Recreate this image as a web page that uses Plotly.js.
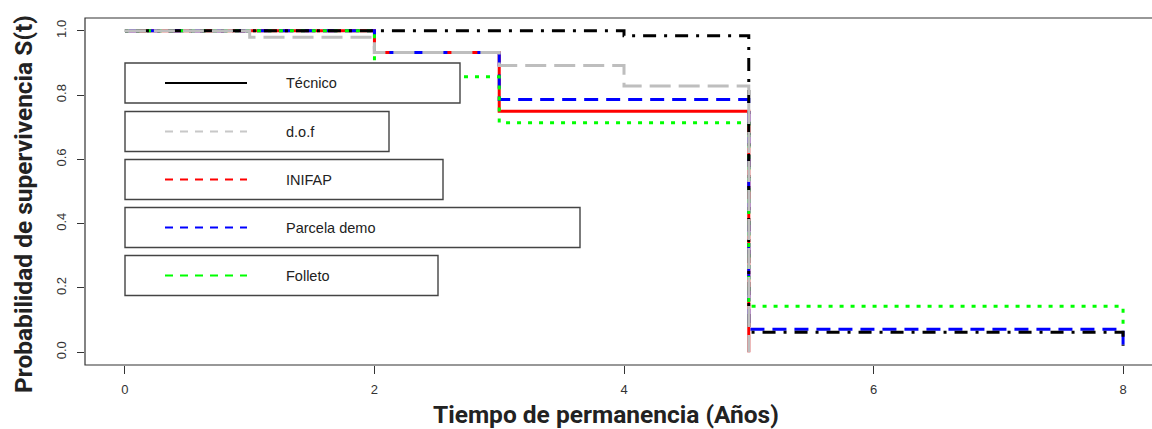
<!DOCTYPE html>
<html>
<head>
<meta charset="utf-8">
<script src="https://cdn.plot.ly/plotly-3.0.1.min.js"></script>
<style>
html,body{margin:0;padding:0;overflow:hidden;background:#fff;width:1152px;height:429px;}
#chart{width:1166px;height:429px;}
</style>
</head>
<body>
<div id="chart"></div>
<script>
// ---- Data ----
var seriesNames = ["INIFAP", "Parcela demo", "Folleto", "Técnico", "d.o.f"];
var timesINIFAP = [0, 2, 3, 5];
var survINIFAP  = [1.0, 0.933, 0.75, 0.0];
var timesParcela = [0, 2, 3, 5, 8];
var survParcela  = [1.0, 0.933, 0.786, 0.071, 0.02];
var timesFolleto = [0, 2, 3, 5, 8];
var survFolleto  = [1.0, 0.857, 0.714, 0.143, 0.071];
var timesTecnico = [0, 4, 5, 8];
var survTecnico  = [1.0, 0.985, 0.062, 0.02];
var timesDof = [0, 1, 2, 3, 4, 5];
var survDof  = [1.0, 0.98, 0.933, 0.892, 0.828, 0.0];

var legendLabels = ["Técnico", "d.o.f", "INIFAP", "Parcela demo", "Folleto"];
var legendColors = ["#000000", "#C8C8C8", "#FF0000", "#0000FF", "#00FF00"];
var xTicks = [0, 2, 4, 6, 8];
var yTicks = [0, 0.2, 0.4, 0.6, 0.8, 1.0];

// ---- Styles ----
var lineStyles = {
  "INIFAP":       {color: "#FF0000", width: 3, dash: "solid"},
  "Parcela demo": {color: "#0000FF", width: 3, dash: "14px,8px"},
  "Folleto":      {color: "#00FF00", width: 3, dash: "4px,7px"},
  "Técnico":      {color: "#000000", width: 3, dash: "3px,8px,13px,8px"},
  "d.o.f":        {color: "#BEBEBE", width: 3, dash: "21px,8px"}
};
var seriesData = {
  "INIFAP": [timesINIFAP, survINIFAP],
  "Parcela demo": [timesParcela, survParcela],
  "Folleto": [timesFolleto, survFolleto],
  "Técnico": [timesTecnico, survTecnico],
  "d.o.f": [timesDof, survDof]
};

var traces = seriesNames.map(function(n){
  var s = lineStyles[n];
  return {
    type: "scatter", mode: "lines", name: n,
    x: seriesData[n][0], y: seriesData[n][1],
    line: {shape: "hv", color: s.color, width: s.width, dash: s.dash},
    showlegend: false, hoverinfo: "skip"
  };
});

// layout geometry (pixels)
var W = 1166, H = 429, ML = 85, MR = 3, MT = 18, MB = 64;
var PW = W - ML - MR, PH = H - MT - MB;
function px(x){ return (x - ML) / PW; }
function py(y){ return 1 - (y - MT) / PH; }

var shapes = [{
  type: "rect", xref: "paper", yref: "paper", x0: 0, x1: 1, y0: 0, y1: 1,
  line: {color: "#333333", width: 1.2}, fillcolor: "rgba(0,0,0,0)", layer: "above"
}];
var annotations = [];

// custom legend boxes
var boxRights = [460, 389, 443, 580, 438];
var boxTops = [63, 111.5, 159.5, 207.5, 255.5];
var boxH = 40;
legendLabels.forEach(function(lab, i){
  var top = boxTops[i], bot = top + boxH, mid = (top + bot) / 2;
  shapes.push({
    type: "rect", xref: "paper", yref: "paper",
    x0: px(125), x1: px(boxRights[i]), y0: py(bot), y1: py(top),
    line: {color: "#444444", width: 1.4}, fillcolor: "#ffffff", layer: "above"
  });
  shapes.push({
    type: "line", xref: "paper", yref: "paper",
    x0: px(165), x1: px(247), y0: py(mid), y1: py(mid),
    line: {color: legendColors[i], width: 2, dash: i === 0 ? "solid" : "8px,7px"},
    layer: "above"
  });
  annotations.push({
    xref: "paper", yref: "paper", x: px(284), y: py(mid),
    xanchor: "left", yanchor: "middle", showarrow: false, text: lab,
    font: {family: "Liberation Sans, Arial, sans-serif", size: 14.5, color: "#222222"}
  });
});

// axis titles
annotations.push({
  xref: "paper", yref: "paper", x: px(23), y: py(204),
  xanchor: "center", yanchor: "middle", textangle: -90, showarrow: false,
  text: "Probabilidad de supervivencia S(t)",
  font: {family: "Roboto, sans-serif", size: 24.5, color: "#222222", weight: 700}
});
annotations.push({
  xref: "paper", yref: "paper", x: px(606), y: py(414),
  xanchor: "center", yanchor: "middle", showarrow: false,
  text: "Tiempo de permanencia (Años)",
  font: {family: "Roboto, sans-serif", size: 24.5, color: "#222222", weight: 700}
});

var tickFont = {family: "Liberation Sans, Arial, sans-serif", size: 13, color: "#333333"};
var layout = {
  width: W, height: H,
  margin: {l: ML, r: MR, t: MT, b: MB, pad: 0},
  paper_bgcolor: "#ffffff", plot_bgcolor: "#ffffff",
  xaxis: {
    range: [-0.32, 8.32], tickvals: xTicks, ticktext: xTicks.map(String),
    ticks: "outside", ticklen: 8, tickcolor: "#333333", tickwidth: 1,
    showgrid: false, zeroline: false, showline: false,
    tickfont: tickFont, ticklabelstandoff: 4
  },
  yaxis: {
    range: [-0.04, 1.04], tickvals: yTicks, ticktext: yTicks.map(function(v){return v.toFixed(1);}),
    ticks: "outside", ticklen: 7, tickcolor: "#333333", tickwidth: 1,
    showgrid: false, zeroline: false, showline: false,
    tickfont: tickFont, tickangle: -90, ticklabelstandoff: 6
  },
  shapes: shapes,
  annotations: annotations,
  showlegend: false
};

Plotly.newPlot("chart", traces, layout, {displayModeBar: false, staticPlot: true});
</script>
</body>
</html>
